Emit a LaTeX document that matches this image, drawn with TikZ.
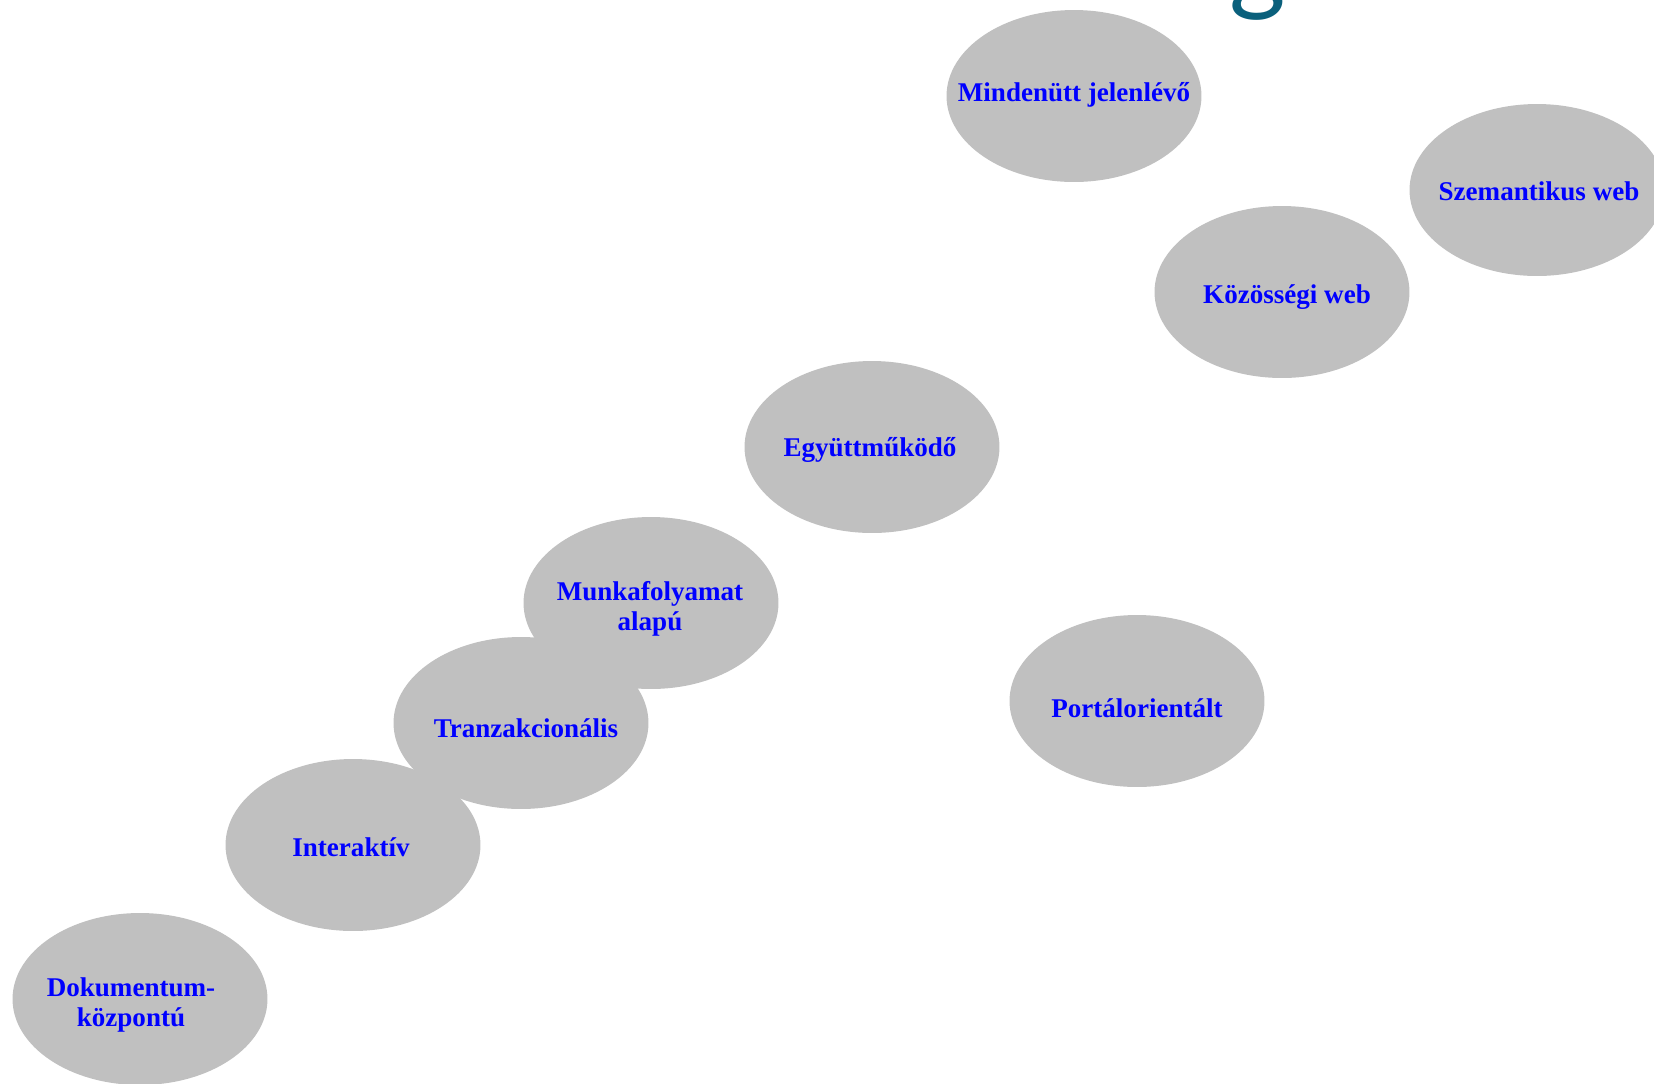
\documentclass[tikz,border=0pt]{standalone}
\usepackage{fontspec}
\setmainfont{Liberation Serif}
\newfontfamily\titlefont{Lato}
\usepackage{tikz}
\usetikzlibrary{calc}

\definecolor{buborekszin}{RGB}{192,192,192}
\definecolor{cimkeszin}{RGB}{0,0,255}
\definecolor{cimszin}{RGB}{10,96,124}

\begin{document}
\begin{tikzpicture}[
        x=0.02cm, y=-0.02cm,
        font=\bfseries\fontsize{15.4}{17.4}\selectfont,
        buborek/.style={fill=buborekszin},
        cimke/.style={text=cimkeszin, align=center, inner sep=0pt}
    ]
        % --- Paraméterek ---
        \def\rx{2.55cm} % vízszintes félengely
        \def\ry{1.72cm} % függőleges félengely

        \useasboundingbox (0,0) rectangle (1654,1083);

        % --- A cím levágott betűje ---
        \node[text=cimszin, font=\titlefont\fontsize{62}{62}\selectfont, anchor=base, inner sep=0pt] (cim) at (1258,0) {g};

        % --- Buborékok ---
        \fill[buborek] (1074,96) ellipse ({\rx} and {\ry});
        \fill[buborek] (1537,190) ellipse ({\rx} and {\ry});
        \fill[buborek] (1282,292) ellipse ({\rx} and {\ry});
        \fill[buborek] (872,447) ellipse ({\rx} and {\ry});
        \fill[buborek] (651,603) ellipse ({\rx} and {\ry});
        \fill[buborek] (521,723) ellipse ({\rx} and {\ry});
        \fill[buborek] (353,845) ellipse ({\rx} and {\ry});
        \fill[buborek] (140,999) ellipse ({\rx} and {\ry});
        \fill[buborek] (1137,701) ellipse ({\rx} and {\ry});

        % --- Feliratok ---
        \node[cimke] (mindenutt) at (1074,95) {Mindenütt jelenlévő};
        \node[cimke] (szemantikus) at (1539,191) {Szemantikus web};
        \node[cimke] (kozossegi) at (1287,297) {Közösségi web};
        \node[cimke] (egyuttmukodo) at (870,450) {Együttműködő};
        \node[cimke] (munkafolyamat) at (650,609) {Munkafolyamat\\alapú};
        \node[cimke] (tranzakcionalis) at (526,728) {Tranzakcionális};
        \node[cimke] (interaktiv) at (351,847) {Interaktív};
        \node[cimke] (dokumentum) at (131,1005) {Dokumentum-\\központú};
        \node[cimke] (portal) at (1137,708) {Portálorientált};

    \end{tikzpicture}
\end{document}
